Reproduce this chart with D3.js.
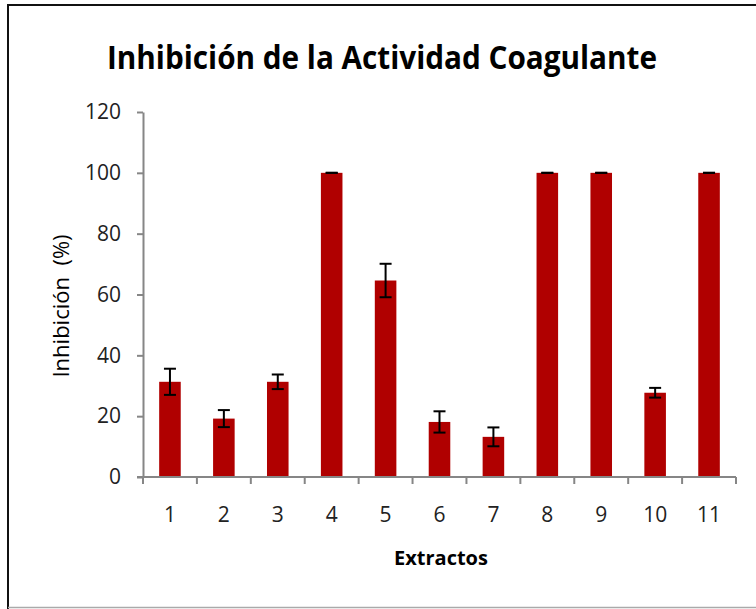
<!DOCTYPE html>
<html>
<head>
<meta charset="utf-8">
<script src="https://cdn.jsdelivr.net/npm/d3@7"></script>
<style>
	body { margin: 0; background: #fff; }
	svg { display: block; }
	.tick text { font-family: "Open Sans", sans-serif; fill: #222; }
</style>
</head>
<body>
<svg id="graph"></svg>
<script>
var screenWidth = 756;
var screenHeight = 609;

// datos
var extractos = ['1', '2', '3', '4', '5', '6', '7', '8', '9', '10', '11'];
var inhibicion = [31.3, 19.2, 31.3, 100, 64.6, 18.1, 13.2, 100, 100, 27.7, 100];
var errores = [4.3, 2.8, 2.4, 0, 5.5, 3.5, 3.1, 0, 0, 1.6, 0];
var yTicks = [0, 20, 40, 60, 80, 100, 120];

var plotLeft = 143, plotRight = 736, plotTop = 112, plotBottom = 477;

var svg = d3.select('#graph')
	.attr('width', screenWidth)
	.attr('height', screenHeight);

// marco
svg.append('line').attr('x1', 8).attr('y1', 5).attr('x2', 756).attr('y2', 5)
	.attr('stroke', '#111').attr('stroke-width', 2);
svg.append('line').attr('x1', 8).attr('y1', 4).attr('x2', 8).attr('y2', 609)
	.attr('stroke', '#111').attr('stroke-width', 2);
svg.append('line').attr('x1', 8).attr('y1', 607.5).attr('x2', 756).attr('y2', 607.5)
	.attr('stroke', '#aaa').attr('stroke-width', 1.5);

var x = d3.scaleBand()
	.domain(extractos)
	.range([plotLeft, plotRight])
	.paddingInner(0.6)
	.paddingOuter(0.3);

var y = d3.scaleLinear()
	.domain([0, 120])
	.range([plotBottom, plotTop]);

// barras
svg.append('g').selectAll('rect')
	.data(inhibicion)
	.enter()
	.append('rect')
	.attr('x', function(d, i) { return x(extractos[i]); })
	.attr('y', function(d) { return y(d); })
	.attr('width', x.bandwidth())
	.attr('height', function(d) { return y(0) - y(d); })
	.attr('fill', '#B00000');

// barras de error
var err = svg.append('g')
	.attr('stroke', '#000')
	.attr('stroke-width', 2);
inhibicion.forEach(function(d, i) {
	var cx = x(extractos[i]) + x.bandwidth() / 2;
	var y1 = y(d + errores[i]), y2 = y(d - errores[i]);
	err.append('line').attr('x1', cx).attr('x2', cx).attr('y1', y1).attr('y2', y2);
	err.append('line').attr('x1', cx - 6).attr('x2', cx + 6).attr('y1', y1).attr('y2', y1);
	err.append('line').attr('x1', cx - 6).attr('x2', cx + 6).attr('y1', y2).attr('y2', y2);
});

// eje y
var gy = svg.append('g')
	.attr('transform', 'translate(' + plotLeft + ',0)')
	.call(d3.axisLeft(y).tickValues(yTicks).tickSize(6).tickPadding(16).tickSizeOuter(0));
gy.selectAll('text').style('font-size', '21px');
gy.select('.domain').attr('stroke', '#868686').attr('stroke-width', 2);
gy.selectAll('.tick line').attr('stroke', '#868686').attr('stroke-width', 2);

// eje x: marcas en los limites de categoria
var gx = svg.append('g')
	.attr('transform', 'translate(0,' + plotBottom + ')');
var bounds = d3.range(extractos.length + 1).map(function(i) { return plotLeft + i * x.step(); });
gx.append('line').attr('x1', plotLeft - 6).attr('x2', plotRight).attr('y1', 0).attr('y2', 0);
gx.selectAll('line.tk')
	.data(bounds)
	.enter()
	.append('line')
	.classed('tk', true)
	.attr('x1', function(d) { return d; })
	.attr('x2', function(d) { return d; })
	.attr('y1', 0).attr('y2', 7);
gx.selectAll('line').attr('stroke', '#868686').attr('stroke-width', 2);
gx.selectAll('text')
	.data(extractos)
	.enter()
	.append('text')
	.attr('x', function(d) { return x(d) + x.bandwidth() / 2; })
	.attr('y', 45)
	.attr('text-anchor', 'middle')
	.style('font-family', '"Open Sans", sans-serif')
	.style('font-size', '21px')
	.attr('fill', '#222')
	.text(function(d) { return d; });

// titulos
svg.append('text')
	.attr('x', 382)
	.attr('y', 69)
	.attr('text-anchor', 'middle')
	.attr('textLength', 550)
	.attr('lengthAdjust', 'spacingAndGlyphs')
	.style('font-family', '"Open Sans", sans-serif')
	.style('font-weight', 'bold')
	.style('font-size', '33px')
	.text('Inhibición de la Actividad Coagulante');

svg.append('text')
	.attr('x', 441)
	.attr('y', 565)
	.attr('text-anchor', 'middle')
	.style('font-family', '"Open Sans", sans-serif')
	.style('font-weight', 'bold')
	.style('font-size', '20px')
	.text('Extractos');

svg.append('text')
	.attr('transform', 'translate(69,306) rotate(-90)')
	.attr('text-anchor', 'middle')
	.style('font-family', '"Open Sans", sans-serif')
	.style('font-size', '22px')
	.style('white-space', 'pre')
	.text('Inhibición  (%)');
</script>
</body>
</html>
